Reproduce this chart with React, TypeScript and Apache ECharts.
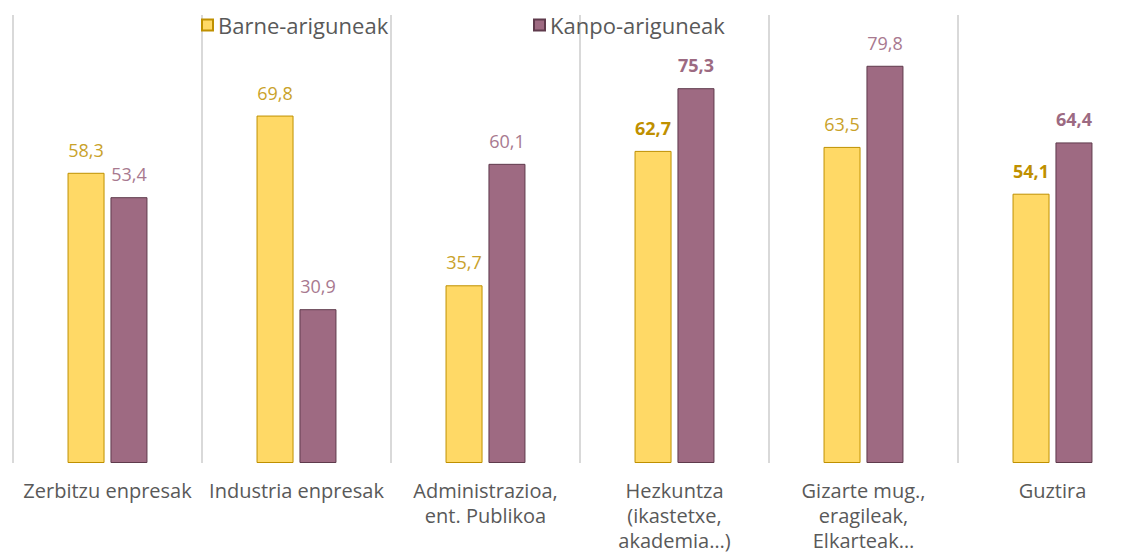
import React, { useEffect, useRef } from "react";
import * as echarts from "echarts";

const categories = [
  "Zerbitzu enpresak",
  "Industria enpresak",
  "Administrazioa,\nent. Publikoa",
  "Hezkuntza\n(ikastetxe,\nakademia…)",
  "Gizarte mug.,\neragileak,\nElkarteak…",
  "Guztira",
];
const barneValues = [58.3, 69.8, 35.7, 62.7, 63.5, 54.1];
const kanpoValues = [53.4, 30.9, 60.1, 75.3, 79.8, 64.4];
const boldIndices = [3, 5];
const seriesNames = ["Barne-ariguneak", "Kanpo-ariguneak"];

const FONT = "'Open Sans', sans-serif";
const fmt = (v: number) => v.toFixed(1).replace(".", ",");

export default function App() {
  const ref = useRef<HTMLDivElement>(null);
  useEffect(() => {
    if (!ref.current) return;
    const chart = echarts.init(ref.current, null, { renderer: "svg" });
    const makeData = (vals: number[], normalColor: string, boldColor: string) =>
      vals.map((v, i) => ({
        value: v,
        label: boldIndices.includes(i)
          ? { color: boldColor, fontWeight: "bold" as const }
          : { color: normalColor, fontWeight: "normal" as const },
      }));
    const legendText = { fontSize: 22, color: "#595959", fontFamily: FONT };
    chart.setOption({
      animation: false,
      textStyle: { fontFamily: FONT },
      grid: {
        left: 13,
        right: -10,
        top: 15,
        bottom: 90,
        containLabel: false,
        outerBoundsMode: "none",
      },
      legend: [
        {
          data: [seriesNames[0]],
          left: 196,
          top: 9,
          icon: "rect",
          itemWidth: 11,
          itemHeight: 11,
          itemGap: 5,
          textStyle: legendText,
        },
        {
          data: [seriesNames[1]],
          left: 528,
          top: 9,
          icon: "rect",
          itemWidth: 11,
          itemHeight: 11,
          itemGap: 5,
          textStyle: legendText,
        },
      ],
      xAxis: {
        type: "category",
        data: categories,
        axisLine: { show: false },
        axisTick: { show: false },
        splitLine: { show: true, interval: 0, lineStyle: { color: "#d9d9d9", width: 2 } },
        axisLabel: {
          interval: 0,
          fontSize: 20,
          color: "#595959",
          lineHeight: 25,
          margin: 15,
          fontFamily: FONT,
        },
      },
      yAxis: { type: "value", min: 0, max: 90, show: false, splitLine: { show: false } },
      series: [
        {
          name: seriesNames[0],
          type: "bar",
          barWidth: 37,
          barGap: "16%",
          data: makeData(barneValues, "#C9A22A", "#BF9000"),
          itemStyle: { color: "#FFD966", borderColor: "#BF9000", borderWidth: 1 },
          label: {
            show: true,
            position: "top",
            distance: 14,
            fontSize: 18,
            fontFamily: FONT,
            formatter: (p: any) => fmt(p.value),
          },
        },
        {
          name: seriesNames[1],
          type: "bar",
          barWidth: 37,
          barGap: "16%",
          data: makeData(kanpoValues, "#A8798F", "#9C6A82"),
          itemStyle: { color: "#9E6A82", borderColor: "#5F3A4C", borderWidth: 1 },
          label: {
            show: true,
            position: "top",
            distance: 14,
            fontSize: 18,
            fontFamily: FONT,
            formatter: (p: any) => fmt(p.value),
          },
        },
      ],
    });
    return () => chart.dispose();
  }, []);
  return (
    <div
      ref={ref}
      style={{ position: "fixed", left: 0, top: 0, width: 1137, height: 553, background: "#fff" }}
    />
  );
}
